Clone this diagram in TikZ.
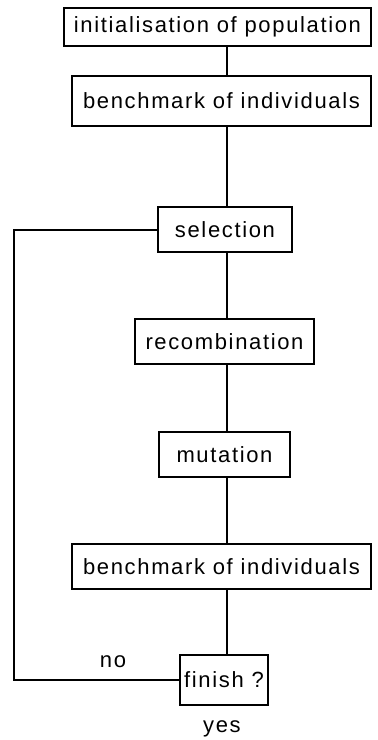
\documentclass[tikz,border=0pt]{standalone}
\usepackage{fontspec}
\newfontfamily\flowfont[LetterSpace=7.5]{Liberation Sans}
\begin{document}
\begin{tikzpicture}[x=1pt,y=-1pt,
  every node/.style={font=\flowfont\fontsize{22}{26}\selectfont, inner sep=0pt},
  stepbox/.style={draw, line width=2pt, minimum width=#1, minimum height=45pt},
  link/.style={line width=2pt},
  lbl/.style={}]
  \useasboundingbox (0,0) rectangle (378,740);
  % the spine of the flow and the return path of the loop
  \coordinate (spine) at (227,0);
  \coordinate (back) at (14,0);

  \node[stepbox=307pt, minimum height=38pt] (init) at (217.5,27) {initialisation of population};
  \node[stepbox=299pt, minimum height=50pt] (bench1) at (221.5,101) {benchmark of individuals};
  \node[stepbox=134pt] (sel) at (225,229.5) {selection};
  \node[stepbox=179pt] (rec) at (224.5,341.5) {recombination};
  \node[stepbox=131pt] (mut) at (224.5,454.5) {mutation};
  \node[stepbox=299pt] (bench2) at (221.5,566.5) {benchmark of individuals};
  \node[stepbox=88pt, minimum height=50pt] (fin) at (224,680) {finish ?};

  \node[lbl] (no) at (113,662) {no};
  \node[lbl] (yes) at (222,729) {yes};

  \draw[link] (init.south -| spine) -- (bench1.north -| spine);
  \draw[link] (bench1.south -| spine) -- (sel.north -| spine);
  \draw[link] (sel.south -| spine) -- (rec.north -| spine);
  \draw[link] (rec.south -| spine) -- (mut.north -| spine);
  \draw[link] (mut.south -| spine) -- (bench2.north -| spine);
  \draw[link] (bench2.south -| spine) -- (fin.north -| spine);
  \draw[link] (fin.west) -- (fin.west -| back) -- (sel.west -| back) -- (sel.west);
\end{tikzpicture}
\end{document}
